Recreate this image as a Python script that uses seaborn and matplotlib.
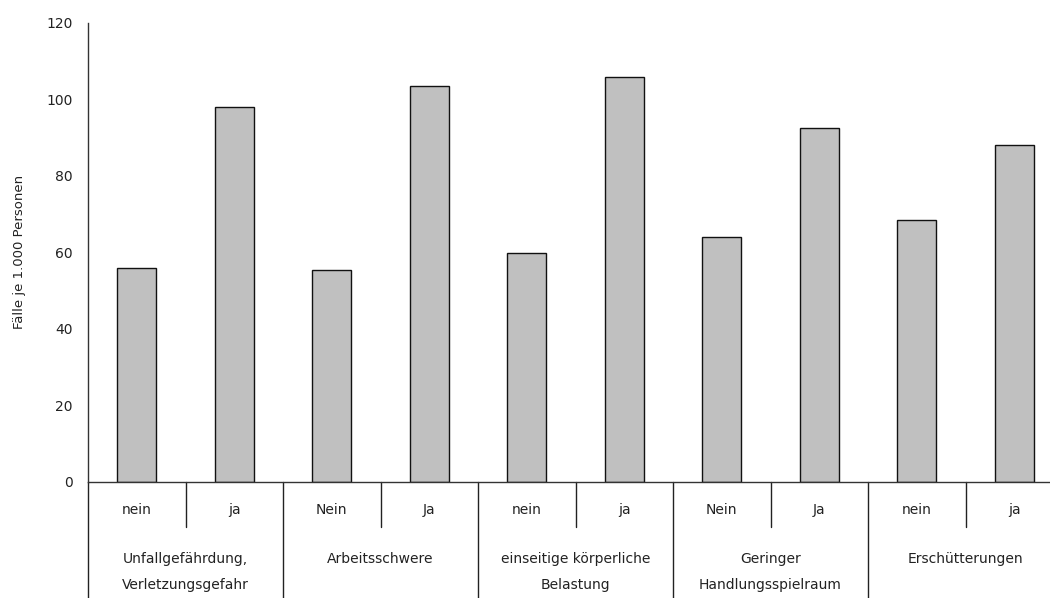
import matplotlib
matplotlib.use("Agg")
import matplotlib.pyplot as plt
import matplotlib.transforms as mtransforms
import seaborn as sns
import pandas as pd

# Data
groups = ["Unfallgefährdung,\nVerletzungsgefahr", "Arbeitsschwere",
          "einseitige körperliche\nBelastung", "Geringer\nHandlungsspielraum",
          "Erschütterungen"]
sub_labels = ["nein", "ja", "Nein", "Ja", "nein", "ja", "Nein", "Ja", "nein", "ja"]
values = [55.9, 98.1, 55.3, 103.6, 59.8, 105.8, 64.0, 92.5, 68.4, 88.0]
y_ticks = [0, 20, 40, 60, 80, 100, 120]
y_label = "Fälle je 1.000 Personen"

sns.set_style("white")
plt.rcParams["font.family"] = ["DejaVu Sans"]

keys = [f"k{i}" for i in range(len(values))]
df = pd.DataFrame({"key": keys, "value": values})

W, H = 1050, 598
fig = plt.figure(figsize=(W / 100, H / 100), dpi=100)
left, right_px, top, bottom = 88, 88 + 975, 23, 481.5
ax = fig.add_axes([left / W, (H - bottom) / H, (right_px - left) / W, (bottom - top) / H])

sns.barplot(data=df, x="key", y="value", order=keys, color="#c0c0c0",
            saturation=1, width=0.4, edgecolor="#111111", linewidth=1.0, ax=ax)

ax.set_xlim(-0.5, len(values) - 0.5)
ax.set_ylim(0, 120)
ax.set_yticks(y_ticks)
ax.set_yticklabels([str(t) for t in y_ticks], fontsize=10, color="#222222")
ax.set_xticks([])
ax.set_xlabel("")
ax.set_ylabel(y_label, fontsize=9.5, color="#222222", labelpad=15)
ax.tick_params(axis="y", direction="out", length=5, width=1, color="#444444", pad=6)
for s in ["top", "right"]:
    ax.spines[s].set_visible(False)
for s in ["left", "bottom"]:
    ax.spines[s].set_color("#333333")
    ax.spines[s].set_linewidth(1.0)

trans = mtransforms.blended_transform_factory(ax.transData, ax.transAxes)
ph = bottom - top
sub_y = -28.5 / ph
sub_sep = -45 / ph
grp_sep = -(H - bottom + 2) / ph
line1 = -77.5 / ph
line2 = -103.5 / ph

# group separators (including left border)
for g in range(len(groups) + 1):
    x = -0.5 + 2 * g
    ax.plot([x, x], [0, grp_sep], transform=trans, color="#222222", lw=1.0, clip_on=False)
# sub separators
for g in range(len(groups)):
    x = 0.5 + 2 * g
    ax.plot([x, x], [0, sub_sep], transform=trans, color="#222222", lw=1.0, clip_on=False)

for i, lab in enumerate(sub_labels):
    ax.text(i, sub_y, lab, transform=trans, ha="center", va="center",
            fontsize=10, color="#222222")
for g, lab in enumerate(groups):
    xc = 2 * g + 0.5
    for j, ln in enumerate(lab.split("\n")):
        ax.text(xc, line1 if j == 0 else line2, ln, transform=trans, ha="center",
                va="center", fontsize=10, color="#222222")

fig.savefig("out.png", dpi=100)
